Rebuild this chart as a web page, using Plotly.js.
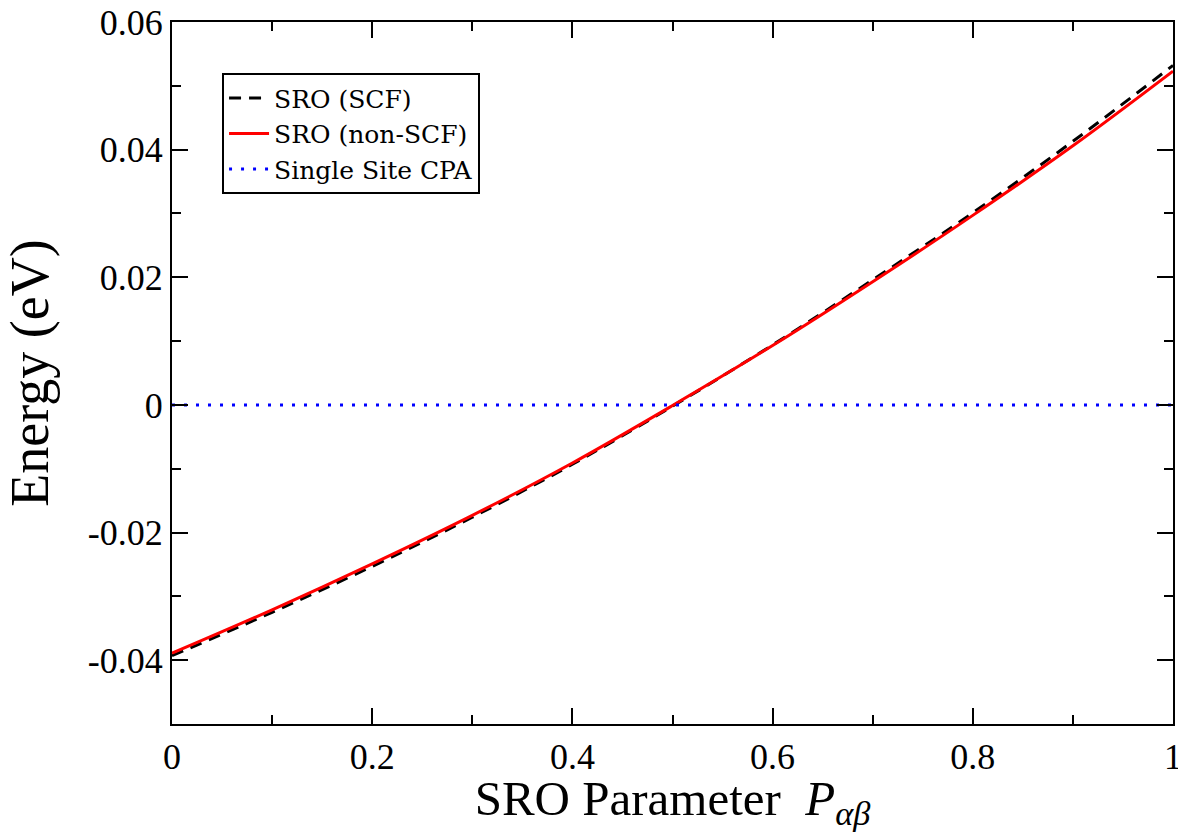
<!DOCTYPE html>
<html>
<head>
<meta charset="utf-8">
<script src="https://cdn.plot.ly/plotly-3.0.1.min.js"></script>
<style>html,body{margin:0;padding:0;background:#fff;}#chart{width:1178px;height:832px;}</style>
</head>
<body>
<div id="chart"></div>
<script>
// SRO parameter values (x)
const sroParam = [0, 0.1, 0.2, 0.3, 0.4, 0.5, 0.6, 0.7, 0.8, 0.9, 1.0];
// Energy (eV), SRO self-consistent
const energySCF = [-0.0393, -0.0325, -0.0253, -0.0176, -0.0093, -0.0002, 0.0094, 0.0196, 0.0301, 0.0413, 0.0532];
// Energy (eV), SRO non-self-consistent
const energyNonSCF = [-0.0389, -0.0321, -0.0249, -0.0173, -0.0091, -0.0001, 0.0093, 0.0193, 0.0297, 0.0406, 0.0523];
// Single site CPA reference
const cpaX = [0, 1];
const cpaY = [0, 0];
const seriesNames = ["SRO (SCF)", "SRO (non-SCF)", "Single Site CPA"];
const xTickVals = [0, 0.2, 0.4, 0.6, 0.8, 1];
const xTickText = ["0", "0.2", "0.4", "0.6", "0.8", "1"];
const yTickVals = [-0.04, -0.02, 0, 0.02, 0.04, 0.06];
const yTickText = ["-0.04", "-0.02", "0", "0.02", "0.04", "0.06"];

const FONT = "Liberation Serif";

const traces = [
  {x: sroParam, y: energySCF, name: seriesNames[0], mode: "lines",
   line: {color: "#000000", width: 3, dash: "12px,8px", shape: "spline"}},
  {x: sroParam, y: energyNonSCF, name: seriesNames[1], mode: "lines",
   line: {color: "#ff0000", width: 3, shape: "spline"}},
  {x: cpaX, y: cpaY, name: seriesNames[2], mode: "lines",
   line: {color: "#0000ff", width: 3, dash: "3px,9px"}}
];

function axisBase() {
  return {
    showline: true, linecolor: "#000", linewidth: 2, mirror: "allticks",
    ticks: "inside", ticklen: 16, tickwidth: 2, tickcolor: "#000",
    showgrid: false, zeroline: false, ticklabeloverflow: "allow",
    tickfont: {family: FONT, size: 36, color: "#000"}
  };
}

const layout = {
  width: 1178, height: 832,
  margin: {l: 172, r: 5, t: 22, b: 108},
  paper_bgcolor: "#fff", plot_bgcolor: "#fff",
  showlegend: true,
  font: {family: FONT, color: "#000"},
  xaxis: Object.assign(axisBase(), {
    range: [0, 1.000001], tickvals: xTickVals, ticktext: xTickText,
    minor: {dtick: 0.1, ticks: "inside", ticklen: 9, tickwidth: 2, tickcolor: "#000"},
    title: {text: "SRO Parameter  <i>P</i><sub><i>αβ</i></sub>", font: {family: FONT, size: 49, color: "#000"}, standoff: 9}
  }),
  yaxis: Object.assign(axisBase(), {
    range: [-0.05, 0.0600001], tickvals: yTickVals, ticktext: yTickText,
    minor: {dtick: 0.01, ticks: "inside", ticklen: 9, tickwidth: 2, tickcolor: "#000"},
    title: {text: "Energy (eV)", font: {family: FONT, size: 54, color: "#000"}, standoff: 26}
  }),
  legend: {
    x: 0.05, y: 0.927, xanchor: "left", yanchor: "top",
    bgcolor: "#fff", bordercolor: "#000", borderwidth: 2,
    font: {family: "DejaVu Serif", size: 25, color: "#000"},
    itemwidth: 40
  }
};

Plotly.newPlot("chart", traces, layout, {displayModeBar: false, staticPlot: true});
</script>
</body>
</html>
